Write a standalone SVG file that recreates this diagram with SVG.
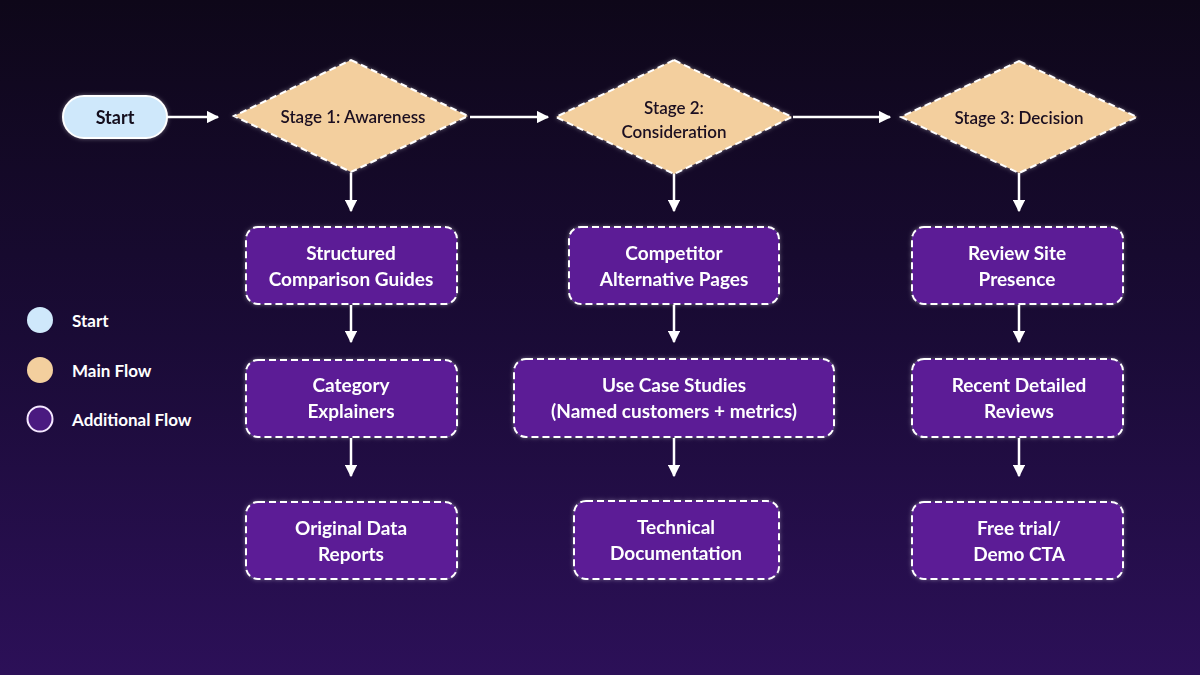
<svg xmlns="http://www.w3.org/2000/svg" width="1200" height="675" viewBox="0 0 1200 675">
<defs>
<linearGradient id="bg" x1="0" y1="0" x2="0" y2="1">
<stop offset="0" stop-color="#0e0719"/><stop offset="0.5" stop-color="#1a0b36"/><stop offset="1" stop-color="#2c1058"/>
</linearGradient>
<marker id="ah" viewBox="0 0 10 10" refX="9" refY="5" markerWidth="5" markerHeight="5" orient="auto" markerUnits="strokeWidth"><path d="M0,0 L10,5 L0,10 z" fill="#ffffff"/></marker>
<filter id="glow" x="-20%" y="-20%" width="140%" height="140%"><feGaussianBlur in="SourceAlpha" stdDeviation="3"/><feFlood flood-color="#ffffff" flood-opacity="0.35"/><feComposite operator="in" in2="SourceAlpha"/><feGaussianBlur stdDeviation="2"/><feMerge><feMergeNode/><feMergeNode in="SourceGraphic"/></feMerge></filter>
</defs>
<style>
text{font-family:"Lato","Open Sans","Liberation Sans",sans-serif;font-weight:700;text-anchor:middle;dominant-baseline:central}
.box{fill:#5b1f96;stroke:#ffffff;stroke-width:2;stroke-dasharray:7 4}
.dia{fill:#f3cf9e;stroke:#ffffff;stroke-width:2;stroke-dasharray:7 4}
.bt{fill:#ffffff;font-size:19px}
.dt{fill:#1a1020;font-size:17px;font-weight:600}
.con{stroke:#ffffff;stroke-width:2.5;fill:none;marker-end:url(#ah)}
.lg{fill:#ffffff;font-size:17px;text-anchor:start}
</style>
<rect width="1200" height="675" fill="url(#bg)"/>
<g id="connectors">
<path class="con" d="M167 117 H218"/>
<path class="con" d="M470 117 H548"/>
<path class="con" d="M793 117 H890"/>
<path class="con" d="M351 173 V211"/>
<path class="con" d="M674 173 V211"/>
<path class="con" d="M1019 173 V211"/>
<path class="con" d="M351 305 V342"/>
<path class="con" d="M674 305 V342"/>
<path class="con" d="M1019 305 V342"/>
<path class="con" d="M351 438 V476"/>
<path class="con" d="M674 438 V476"/>
<path class="con" d="M1019 438 V476"/>
</g>
<g id="start" filter="url(#glow)"><rect x="63" y="96" width="104" height="42" rx="21" fill="#cfe8fb" stroke="#ffffff" stroke-width="2"/><text x="115" y="117" fill="#14101e" font-size="18">Start</text></g>
<g id="stage1" filter="url(#glow)"><polygon class="dia" points="351,60 468,116 351,172 234,116"/><text class="dt" x="353" y="116">Stage 1: Awareness</text></g>
<g id="stage2" filter="url(#glow)"><polygon class="dia" points="674,60 792,117 674,174 556,117"/><text class="dt" x="674" y="107">Stage 2:</text><text class="dt" x="674" y="131">Consideration</text></g>
<g id="stage3" filter="url(#glow)"><polygon class="dia" points="1019,61 1137,117 1019,173 901,117"/><text class="dt" x="1019" y="117">Stage 3: Decision</text></g>
<g id="n1" filter="url(#glow)"><rect class="box" x="246" y="227" width="211" height="77" rx="12"/><text class="bt" x="351" y="252">Structured</text><text class="bt" x="351" y="278">Comparison Guides</text></g>
<g id="n2" filter="url(#glow)"><rect class="box" x="246" y="360" width="211" height="77" rx="12"/><text class="bt" x="351" y="384">Category</text><text class="bt" x="351" y="410">Explainers</text></g>
<g id="n3" filter="url(#glow)"><rect class="box" x="246" y="502" width="211" height="77" rx="12"/><text class="bt" x="351" y="527">Original Data</text><text class="bt" x="351" y="553">Reports</text></g>
<g id="n4" filter="url(#glow)"><rect class="box" x="569" y="227" width="210" height="77" rx="12"/><text class="bt" x="674" y="252">Competitor</text><text class="bt" x="674" y="278">Alternative Pages</text></g>
<g id="n5" filter="url(#glow)"><rect class="box" x="514" y="359" width="320" height="78" rx="12"/><text class="bt" x="674" y="384">Use Case Studies</text><text class="bt" x="674" y="410">(Named customers + metrics)</text></g>
<g id="n6" filter="url(#glow)"><rect class="box" x="574" y="501" width="205" height="78" rx="12"/><text class="bt" x="676" y="526">Technical</text><text class="bt" x="676" y="552">Documentation</text></g>
<g id="n7" filter="url(#glow)"><rect class="box" x="912" y="227" width="211" height="77" rx="12"/><text class="bt" x="1017" y="252">Review Site</text><text class="bt" x="1017" y="278">Presence</text></g>
<g id="n8" filter="url(#glow)"><rect class="box" x="912" y="359" width="211" height="78" rx="12"/><text class="bt" x="1019" y="384">Recent Detailed</text><text class="bt" x="1019" y="410">Reviews</text></g>
<g id="n9" filter="url(#glow)"><rect class="box" x="912" y="502" width="211" height="77" rx="12"/><text class="bt" x="1019" y="527">Free trial/</text><text class="bt" x="1019" y="553">Demo CTA</text></g>
<g id="legend">
<circle cx="40" cy="320" r="13" fill="#cfe8fb"/><text class="lg" x="72" y="320">Start</text>
<circle cx="40" cy="370" r="13" fill="#f3cf9e"/><text class="lg" x="72" y="370">Main Flow</text>
<circle cx="40" cy="419" r="12.5" fill="#4a1a80" stroke="#f5e8ff" stroke-width="2"/><text class="lg" x="72" y="419">Additional Flow</text>
</g>
</svg>
